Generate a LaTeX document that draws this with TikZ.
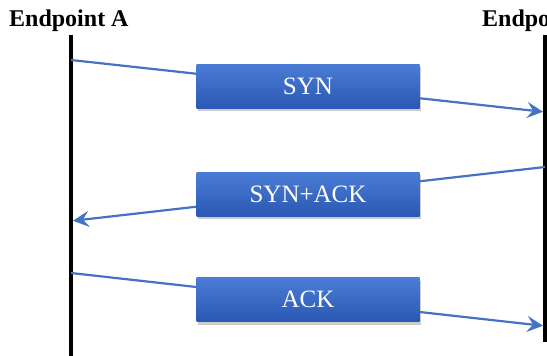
\documentclass[tikz,border=0pt]{standalone}
\usepackage{fontspec}
\setmainfont{Liberation Serif}
\usepackage{xcolor}
\usetikzlibrary{arrows.meta,shadows}

\definecolor{msgblue}{HTML}{4472C4}
\definecolor{boxtop}{HTML}{4B7DD6}
\definecolor{boxbot}{HTML}{2A58B2}

\begin{document}
\begin{tikzpicture}[x=1pt,y=-1pt,
  title/.style={font=\fontsize{24}{24}\selectfont\bfseries,inner sep=0pt,anchor=base west},
  lifeline/.style={line width=4pt},
  msg/.style={msgblue,line width=2.2pt,shorten >=2pt,-{Stealth[length=16pt,width=16pt,inset=6pt]}},
  msgbox/.style={top color=boxtop,bottom color=boxbot,minimum width=223pt,minimum height=44pt,
    text=white,font=\fontsize{25}{25}\selectfont,
    drop shadow={shadow xshift=1.5pt,shadow yshift=-3pt,opacity=0.4}}]
  \useasboundingbox (0,0) rectangle (547,356);

  \node[title] (ta) at (9,27) {Endpoint A};
  \node[title] (tb) at (482,27) {Endpoint B};

  % lifelines
  \coordinate (atop) at (71,35);  \coordinate (abot) at (71,356);
  \coordinate (btop) at (545,35); \coordinate (bbot) at (545,342);
  \draw[lifeline] (atop) -- (abot);
  \draw[lifeline] (btop) -- (bbot);

  % handshake
  \coordinate (a1) at (71,60);  \coordinate (b1) at (545,112);
  \coordinate (b2) at (545,167); \coordinate (a2) at (71,221);
  \coordinate (a3) at (71,273); \coordinate (b3) at (545,326);
  \draw[msg] (a1) -- node[msgbox] (syn) {SYN} (b1);
  \draw[msg] (b2) -- node[msgbox] (synack) {SYN+ACK} (a2);
  \draw[msg] (a3) -- node[msgbox] (ack) {ACK} (b3);
\end{tikzpicture}
\end{document}
